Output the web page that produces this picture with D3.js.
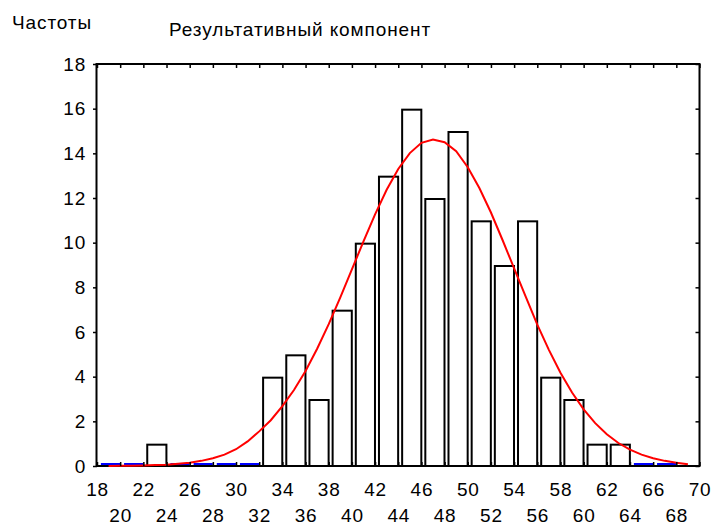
<!DOCTYPE html>
<meta charset="utf-8">
<head>
<style>
  body { margin: 0; background: #fff; }
  text { font-family: Arial, "Liberation Sans", sans-serif; fill: #000; }
  .bar { fill: #fff; stroke: #000; stroke-width: 2px; }
  .zero { stroke: #0000ff; stroke-width: 2px; }
  .curve { fill: none; stroke: #ff0000; stroke-width: 2px; }
  .frame { fill: none; stroke: #000; stroke-width: 2px; }
  .axis path { display: none; }
  .axis line { stroke: #000; stroke-width: 1.5px; }
  .title { font-size: 19px; letter-spacing: 0.9px; }
  .axis text { font-size: 19px; letter-spacing: 0.8px; }
</style>
</head>
<body>
<script src="https://d3js.org/d3.v7.min.js"></script>
<script>
// histogram bins (lower edge, width 2) and counts
var binLow = [18.25, 20.25, 22.25, 24.25, 26.25, 28.25, 30.25, 32.25, 34.25, 36.25,
              38.25, 40.25, 42.25, 44.25, 46.25, 48.25, 50.25, 52.25, 54.25, 56.25,
              58.25, 60.25, 62.25, 64.25, 66.25];
var counts = [0, 0, 1, 0, 0, 0, 0, 4, 5, 3, 7, 10, 13, 16, 12, 15, 11, 9, 11, 4, 3, 1, 1, 0, 0];
var binWidth = 2;

// expected normal curve
var curveX = [19, 20, 21, 22, 23, 24, 25, 26, 27, 28, 29, 30, 31, 32, 33, 34, 35, 36, 37, 38,
              39, 40, 41, 42, 43, 44, 45, 46, 47, 48, 49, 50, 51, 52, 53, 54, 55, 56, 57, 58,
              59, 60, 61, 62, 63, 64, 65, 66, 67, 68, 69];
var curveY = [0.00, 0.01, 0.01, 0.02, 0.04, 0.06, 0.10, 0.15, 0.23, 0.35, 0.51, 0.75, 1.10, 1.55, 2.05, 2.68, 3.40, 4.25, 5.25, 6.35,
              7.55, 8.80, 10.06, 11.27, 12.37, 13.30, 14.01, 14.47, 14.62, 14.50, 14.10, 13.38, 12.45, 11.35, 10.12, 8.85, 7.58, 6.33, 5.20, 4.18,
              3.29, 2.54, 1.92, 1.42, 1.03, 0.73, 0.51, 0.35, 0.23, 0.15, 0.08];

var xTicks = [18, 20, 22, 24, 26, 28, 30, 32, 34, 36, 38, 40, 42, 44, 46, 48, 50, 52, 54, 56, 58, 60, 62, 64, 66, 68, 70];
var yTicks = [0, 2, 4, 6, 8, 10, 12, 14, 16, 18];

var width = 714, height = 525;
var x = d3.scaleLinear().domain([18, 70]).range([97, 699.5]);
var y = d3.scaleLinear().domain([0, 18]).range([466, 64]);

var svg = d3.select("body").append("svg")
    .attr("width", width)
    .attr("height", height);

// titles
svg.append("text")
    .attr("class", "title")
    .attr("x", 12)
    .attr("y", 29)
    .text("Частоты");
svg.append("text")
    .attr("class", "title")
    .attr("x", 169)
    .attr("y", 36)
    .text("Результативный компонент");

// bars
var bins = binLow.map(function(lo, i) { return { lo: lo, n: counts[i] }; });

svg.selectAll(".bar")
    .data(bins.filter(function(d) { return d.n > 0; }))
    .enter().append("rect")
    .attr("class", "bar")
    .attr("x", function(d) { return x(d.lo) + 1; })
    .attr("width", function(d) { return x(d.lo + binWidth) - x(d.lo) - 4; })
    .attr("y", function(d) { return y(d.n) + 1; })
    .attr("height", function(d) { return y(0) - y(d.n) - 1; });

// frame
svg.append("rect")
    .attr("class", "frame")
    .attr("x", x(18) - 0.5)
    .attr("y", y(18))
    .attr("width", x(70) - x(18) + 0.5)
    .attr("height", y(0) - y(18));

// empty bins drawn as blue strokes on the base line
svg.selectAll(".zero")
    .data(bins.filter(function(d) { return d.n === 0; }))
    .enter().append("line")
    .attr("class", "zero")
    .attr("x1", function(d) { return x(d.lo) + 1; })
    .attr("x2", function(d) { return x(d.lo + binWidth) - 3; })
    .attr("y1", y(0) - 2)
    .attr("y2", y(0) - 2);

// normal curve
var line = d3.line()
    .x(function(d, i) { return x(curveX[i]); })
    .y(function(d) { return y(d); });
svg.append("path")
    .datum(curveY)
    .attr("class", "curve")
    .attr("d", line);

// bottom axis, labels in two rows
var xb = svg.append("g")
    .attr("class", "axis")
    .attr("transform", "translate(0," + y(0) + ")")
    .call(d3.axisBottom(x).tickValues(xTicks).tickSizeInner(-4).tickSizeOuter(0));
xb.selectAll("text")
    .attr("dy", null)
    .attr("y", function(d, i) { return i % 2 ? 56 : 29.5; });

// top axis ticks
svg.append("g")
    .attr("class", "axis")
    .attr("transform", "translate(0," + y(18) + ")")
    .call(d3.axisTop(x).tickValues(xTicks).tickSizeInner(-4).tickSizeOuter(0).tickFormat(""));

// left axis
svg.append("g")
    .attr("class", "axis")
    .attr("transform", "translate(" + x(18) + ",0)")
    .call(d3.axisLeft(y).tickValues(yTicks).tickSizeInner(4).tickSizeOuter(0).tickPadding(7));

// right axis ticks
svg.append("g")
    .attr("class", "axis")
    .attr("transform", "translate(" + x(70) + ",0)")
    .call(d3.axisRight(y).tickValues(yTicks).tickSizeInner(-4).tickSizeOuter(0).tickFormat(""));
</script>
</body>
